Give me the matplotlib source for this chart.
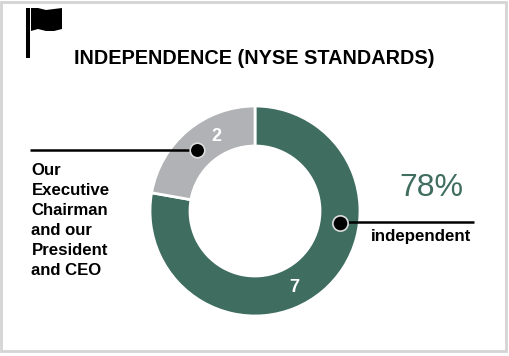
import matplotlib
matplotlib.use('Agg')
import matplotlib.pyplot as plt
from matplotlib.patches import Rectangle, Polygon

# valeurs du donut
labels = ['independent', 'not independent']
values = [7, 2]
colors = ['#3f6d60', '#b1b2b5']
percent_label = '78%'
title = 'INDEPENDENCE (NYSE STANDARDS)'
left_text = 'Our\nExecutive\nChairman\nand our\nPresident\nand CEO'

W = 510
H = 356
plt.rcParams['font.family'] = ['Liberation Sans', 'DejaVu Sans']

def Y(y):
    return H - y

fig = plt.figure(figsize=(W / 100, H / 100), dpi=100)
ax = fig.add_axes([0, 0, 1, 1])

# cadre gris
ax.add_patch(Rectangle((1.5, Y(351)), 505, 349, fc='white', ec='#d4d4d4', lw=2))

# donut
wedges, _ = ax.pie(values, colors=colors, center=(255, Y(211)), radius=105,
                   startangle=90, counterclock=False, frame=True,
                   wedgeprops=dict(width=40, edgecolor='white', linewidth=2))

ax.set_xlim(0, W)
ax.set_ylim(0, H)
ax.set_aspect('equal')
ax.axis('off')

# drapeau
ax.plot([28, 28], [Y(8), Y(58)], color='black', lw=2.9, solid_capstyle='butt')
flag_top = [(31, 8), (38, 8), (46, 10), (54, 9), (62, 8)]
flag_bot = [(62, 29), (54, 31), (46, 31), (38, 29), (31, 31)]
ax.add_patch(Polygon([(x, Y(y)) for x, y in flag_top + flag_bot], fc='black', ec='none'))

ax.text(254.5, Y(59), title, ha='center', va='center', fontsize=14.35, fontweight='bold', color='black')

# annotation gauche
ax.plot([30, 197], [Y(150), Y(150)], color='black', lw=1.8, solid_capstyle='butt')
ax.plot([197], [Y(150)], 'o', ms=10.5, mfc='black', mec='#dddddd', mew=1.2)
ax.text(31.5, Y(163.5), left_text, ha='left', va='top', fontsize=12.1, fontweight='bold',
        color='black', linespacing=1.41)

# annotation droite
ax.plot([340, 474], [Y(222), Y(222)], color='black', lw=1.8, solid_capstyle='butt')
ax.plot([340], [Y(223)], 'o', ms=11, mfc='black', mec='#dddddd', mew=1.2)
ax.text(421, Y(236), labels[0], ha='center', va='center', fontsize=12.2, fontweight='bold', color='black')
ax.text(431, Y(188), percent_label, ha='center', va='center', fontsize=23, color=colors[0])

# valeurs sur les parts
ax.text(216, Y(137), str(values[1]), ha='center', va='center', fontsize=13, fontweight='bold', color='white')
ax.text(294, Y(287), str(values[0]), ha='center', va='center', fontsize=13, fontweight='bold', color='white')

fig.savefig('out.png', dpi=100)
